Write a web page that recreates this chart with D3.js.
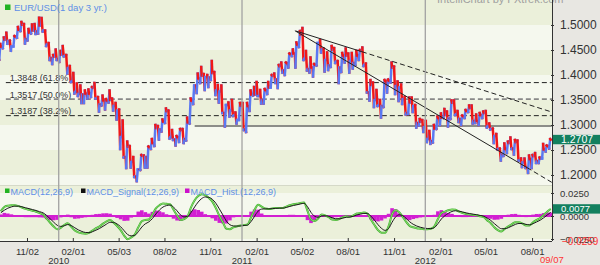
<!DOCTYPE html>
<html><head><meta charset="utf-8">
<script src="https://cdn.jsdelivr.net/npm/d3@7"></script>
<style>body{margin:0;background:#e8e7e2;} text{font-family:"Liberation Sans",Arial,sans-serif;}</style>
</head><body><svg id="c" width="600" height="265"></svg>
<script>
// ---------- data ----------
const firstOpen = 1.4330;
const weekHigh = [1.4620,1.4750,1.4845,1.4690,1.4780,1.4960,1.5060,1.5020,1.4920,1.5010,1.5020,1.5145,1.5140,1.4890,1.4640,1.4400,1.4510,
1.4480,1.4580,1.4400,1.4180,1.4040,1.3830,1.3790,1.3690,1.3710,1.3760,1.3840,1.3560,1.3590,1.3520,1.3690,1.3530,1.3440,1.3310,1.3090,1.2670,1.2580,1.2360,1.2110,1.2400,1.2390,1.2570,1.2720,1.3000,1.2980,1.3110,1.3330,1.3290,1.2900,1.2780,1.2920,1.2920,1.3150,1.3530,1.3790,1.4030,1.4160,1.4020,1.4000,1.4280,1.4060,1.3800,1.3790,1.3400,1.3450,1.3500,1.3250,1.3440,
1.3440,1.3440,1.3690,1.3760,1.3860,1.3700,1.3720,1.3860,1.4000,1.4030,1.4200,1.4250,1.4250,1.4430,1.4510,1.4650,1.4880,1.4940,1.4480,1.4350,1.4220,1.4640,1.4700,1.4530,1.4450,1.4580,1.4540,1.4280,1.4440,1.4530,1.4430,1.4440,1.4480,1.4500,1.4550,1.4230,1.3900,1.3850,1.3700,1.3500,1.3900,1.3910,1.4250,1.4170,1.3870,1.3810,1.3560,1.3550,1.3550,1.3400,1.3120,1.3100,
1.3080,1.2880,1.3000,1.3170,1.3230,1.3320,1.3270,1.3490,1.3490,1.3280,1.3190,1.3300,1.3390,1.3390,1.3210,1.3240,1.3270,1.3280,1.3030,1.2930,1.2820,1.2530,1.2630,1.2670,1.2750,1.2700,1.2690,1.2330,1.2330,1.2390,1.2400,1.2440,1.2350,1.2620,1.2590,1.2720];
const weekLow = [1.4305,1.4535,1.4625,1.4485,1.4570,1.4745,1.4880,1.4630,1.4690,1.4830,1.4820,1.4830,1.4870,1.4580,1.4300,1.4220,1.4300,
1.4260,1.4370,1.4030,1.3860,1.3630,1.3580,1.3440,1.3440,1.3530,1.3560,1.3530,1.3270,1.3390,1.3310,1.3450,1.3290,1.3110,1.2520,1.2350,1.2140,1.2150,1.1960,1.1876,1.2100,1.2150,1.2150,1.2520,1.2580,1.2710,1.2870,1.3040,1.2730,1.2700,1.2590,1.2660,1.2640,1.2690,1.3030,1.3420,1.3640,1.3840,1.3700,1.3760,1.3900,1.3600,1.3450,1.3240,1.2970,1.3170,1.3180,1.3030,1.3100,
1.2900,1.2860,1.3280,1.3590,1.3580,1.3430,1.3430,1.3620,1.3750,1.3840,1.3740,1.4050,1.4000,1.4150,1.4380,1.4150,1.4560,1.4300,1.4090,1.4050,1.3970,1.4190,1.4450,1.4070,1.4100,1.4160,1.4240,1.3840,1.4060,1.4250,1.4050,1.4130,1.4200,1.4300,1.4180,1.3650,1.3490,1.3360,1.3380,1.3150,1.3360,1.3650,1.3850,1.3620,1.3480,1.3420,1.3210,1.3220,1.3260,1.2950,1.2990,1.2860,
1.2660,1.2624,1.2650,1.2920,1.3000,1.3140,1.2970,1.3120,1.3200,1.3060,1.3000,1.3140,1.3260,1.3030,1.3040,1.3000,1.3140,1.2950,1.2910,1.2640,1.2510,1.2290,1.2380,1.2440,1.2520,1.2410,1.2290,1.2160,1.2140,1.2042,1.2140,1.2240,1.2240,1.2330,1.2470,1.2530];
const weekClose = [1.4570,1.4710,1.4680,1.4570,1.4770,1.4905,1.5010,1.4720,1.4850,1.4890,1.4870,1.4990,1.4890,1.4610,1.4340,1.4370,1.4320,
1.4410,1.4380,1.4140,1.3870,1.3660,1.3620,1.3610,1.3630,1.3630,1.3750,1.3530,1.3410,1.3490,1.3490,1.3500,1.3380,1.3290,1.2760,1.2360,1.2570,1.2260,1.1970,1.2110,1.2390,1.2360,1.2560,1.2640,1.2940,1.2910,1.3070,1.3280,1.2750,1.2710,1.2760,1.2900,1.2720,1.3050,1.3490,1.3790,1.3930,1.3990,1.3960,1.3950,1.4040,1.3690,1.3670,1.3240,1.3400,1.3290,1.3190,1.3100,1.3390,
1.2910,1.3380,1.3610,1.3610,1.3580,1.3500,1.3700,1.3750,1.3990,1.3910,1.4180,1.4090,1.4240,1.4420,1.4430,1.4610,1.4810,1.4320,1.4120,1.4150,1.4210,1.4640,1.4510,1.4300,1.4190,1.4510,1.4270,1.4150,1.4390,1.4390,1.4280,1.4240,1.4390,1.4490,1.4200,1.3650,1.3800,1.3500,1.3390,1.3380,1.3880,1.3890,1.4150,1.3780,1.3750,1.3520,1.3240,1.3450,1.3380,1.3040,1.3070,1.2960,
1.2720,1.2680,1.2930,1.3140,1.3150,1.3200,1.3130,1.3450,1.3210,1.3120,1.3180,1.3280,1.3340,1.3080,1.3080,1.3200,1.3240,1.2970,1.2920,1.2780,1.2520,1.2410,1.2520,1.2640,1.2530,1.2660,1.2290,1.2250,1.2150,1.2320,1.2380,1.2280,1.2330,1.2510,1.2580,1.2707];
const macdValues = [0.0052,0.0097,0.0112,0.0117,0.0117,0.0107,0.0092,0.0077,0.0067,0.0057,0.0047,0.0032,0.0017,-0.0028,-0.0073,-0.0113,-0.0143,
-0.0128,-0.0098,-0.0078,-0.0118,-0.0158,-0.0178,-0.0188,-0.0193,-0.0183,-0.0158,-0.0133,-0.0113,-0.0083,-0.0058,-0.0043,-0.0073,-0.0108,-0.0153,-0.0213,-0.0253,-0.0233,-0.0203,-0.0123,-0.0058,-0.0043,-0.0038,0.0017,0.0082,0.0117,0.0137,0.0132,0.0127,0.0067,0.0007,-0.0043,-0.0033,-0.0003,0.0097,0.0172,0.0217,0.0237,0.0227,0.0197,0.0157,0.0087,0.0002,-0.0068,-0.0138,-0.0143,-0.0123,-0.0113,-0.0103,
-0.0098,-0.0093,-0.0013,0.0067,0.0122,0.0102,0.0082,0.0077,0.0082,0.0087,0.0087,0.0087,0.0102,0.0117,0.0127,0.0132,0.0142,0.0147,0.0057,-0.0038,-0.0053,-0.0028,0.0017,0.0007,-0.0013,-0.0038,-0.0043,-0.0033,-0.0013,-0.0003,-0.0008,0.0007,0.0027,0.0032,0.0037,0.0027,-0.0038,-0.0098,-0.0153,-0.0183,-0.0183,-0.0113,0.0017,0.0062,0.0042,-0.0008,-0.0063,-0.0108,-0.0123,-0.0133,-0.0138,-0.0143,
-0.0143,-0.0138,-0.0113,-0.0033,0.0032,0.0047,0.0062,0.0072,0.0067,0.0047,0.0032,0.0022,0.0017,0.0012,0.0007,-0.0003,-0.0013,-0.0048,-0.0078,-0.0123,-0.0153,-0.0168,-0.0138,-0.0113,-0.0088,-0.0068,-0.0068,-0.0083,-0.0103,-0.0103,-0.0068,-0.0043,-0.0023,0.0012,0.0047,0.0077];
const signalValues = [0.0035,0.0063,0.0085,0.0099,0.0107,0.0107,0.0100,0.0090,0.0080,0.0070,0.0060,0.0047,0.0034,0.0006,-0.0030,-0.0067,-0.0101,
-0.0113,-0.0106,-0.0093,-0.0104,-0.0128,-0.0151,-0.0168,-0.0179,-0.0181,-0.0171,-0.0154,-0.0136,-0.0112,-0.0088,-0.0068,-0.0070,-0.0087,-0.0117,-0.0160,-0.0202,-0.0216,-0.0210,-0.0171,-0.0120,-0.0085,-0.0064,-0.0028,0.0022,0.0065,0.0097,0.0113,0.0119,0.0096,0.0056,0.0011,-0.0009,-0.0006,0.0040,0.0099,0.0152,0.0190,0.0207,0.0203,0.0182,0.0139,0.0077,0.0012,-0.0056,-0.0095,-0.0108,-0.0110,-0.0107,
-0.0103,-0.0099,-0.0060,-0.0003,0.0053,0.0075,0.0078,0.0078,0.0080,0.0083,0.0085,0.0086,0.0093,0.0104,0.0114,0.0122,0.0131,0.0138,0.0102,0.0039,-0.0002,-0.0014,0.0000,0.0003,-0.0004,-0.0019,-0.0030,-0.0031,-0.0023,-0.0014,-0.0011,-0.0003,0.0011,0.0020,0.0028,0.0028,-0.0002,-0.0045,-0.0094,-0.0134,-0.0156,-0.0137,-0.0068,-0.0010,0.0013,0.0004,-0.0026,-0.0063,-0.0090,-0.0109,-0.0122,-0.0131,
-0.0136,-0.0137,-0.0126,-0.0084,-0.0032,0.0004,0.0030,0.0049,0.0057,0.0053,0.0044,0.0034,0.0026,0.0020,0.0014,0.0006,-0.0003,-0.0023,-0.0048,-0.0082,-0.0114,-0.0138,-0.0138,-0.0127,-0.0109,-0.0091,-0.0081,-0.0082,-0.0091,-0.0096,-0.0083,-0.0065,-0.0046,-0.0020,0.0010,0.0040];
const priceTicks = [1.5, 1.45, 1.4, 1.35, 1.3, 1.25, 1.2];
const macdTicks = [0.025, 0, -0.025];
const fibLevels = [1.3848, 1.3517, 1.3187];
const fibLabels = ["1.3848 (61.8%)", "1.3517 (50.0%)", "1.3187 (38.2%)"];
const dateTicks = ["2009-11-02","2010-02-01","2010-05-03","2010-08-02","2010-11-01","2011-02-01","2011-05-02","2011-08-01","2011-11-01","2012-02-01","2012-05-01","2012-08-01"];
const dateTickLabels = ["11/02","02/01","05/03","08/02","11/01","02/01","05/02","08/01","11/01","02/01","05/01","08/01"];
const yearStarts = ["2010-01-04","2011-01-03","2012-01-02"];
const yearLabels = ["2010","2011","2012"];
const lastPrice = 1.2707, lastMacd = 0.0077, minMacd = -0.0259, lastDate = "09/07";
const upperTrend = [["2011-04-20",1.4880],["2011-08-29",1.4466],["2012-09-09",1.3260]];
const lowerTrend = [["2011-04-18",1.4886],["2012-07-22",1.2148],["2012-09-09",1.1854]];
const supportLine = [["2010-10-01",1.2980],["2012-09-09",1.2980]];
const fibStart = "2009-09-21";

// ---------- layout ----------
const svg = d3.select('#c');
const PR = 552, MAIN_B = 185, MACD_B = 241;
const pd = d3.timeParse('%Y-%m-%d');
const x = d3.scaleTime().domain([new Date(2010,0,1), new Date(2012,0,1)]).range([57.2, 424.8]);
const y = d3.scaleLinear().domain([1.2, 1.5]).range([175, 25]);
const ym = d3.scaleLinear().domain([-0.025, 0.025]).range([239, 193]);
const weeks = d3.timeMonday.range(new Date(2009,8,7), new Date(2012,8,8));

svg.append('rect').attr('width',600).attr('height',265).attr('fill','#e8e7e2');
const defs = svg.append('defs');
defs.append('clipPath').attr('id','cm').append('rect').attr('x',0).attr('y',0).attr('width',PR).attr('height',MAIN_B);
defs.append('clipPath').attr('id','cd').append('rect').attr('x',0).attr('y',MAIN_B).attr('width',PR).attr('height',MACD_B-MAIN_B);

const GREEN='#ebf0da', LIGHT='#f5f8ee';
const gm = svg.append('g').attr('clip-path','url(#cm)');
const bandEdges = [1.6,1.5,1.45,1.4,1.35,1.3,1.25,1.2,1.1];
for(let i=0;i<bandEdges.length-1;i++){
  gm.append('rect').attr('x',0).attr('width',PR).attr('y',y(bandEdges[i])).attr('height',y(bandEdges[i+1])-y(bandEdges[i]))
    .attr('fill', i%2===0?GREEN:LIGHT);
}
const gd = svg.append('g').attr('clip-path','url(#cd)');
const mEdges = [0.06,0.025,0,-0.025,-0.06];
const mCols = [GREEN, LIGHT, GREEN, LIGHT];
for(let i=0;i<mEdges.length-1;i++){
  gd.append('rect').attr('x',0).attr('width',PR).attr('y',ym(mEdges[i])).attr('height',ym(mEdges[i+1])-ym(mEdges[i])).attr('fill',mCols[i]);
}
svg.append('line').attr('x1',0).attr('x2',PR).attr('y1',MAIN_B+0.5).attr('y2',MAIN_B+0.5).attr('stroke','#d5d9c8');

svg.append('text').attr('x',437).attr('y',2.5).attr('font-size',11).attr('fill','#a0a0a0').text('IntelliChart   by FXtrek.com');

yearStarts.forEach(d=>{
  svg.append('line').attr('x1',x(pd(d))).attr('x2',x(pd(d))).attr('y1',0).attr('y2',MACD_B)
    .attr('stroke','#a2a2a2').attr('stroke-width',1.3);
});

fibLevels.forEach((v,i)=>{
  gm.append('line').attr('x1',x(pd(fibStart))).attr('x2',PR).attr('y1',y(v)).attr('y2',y(v))
    .attr('stroke', i===1?'#888':'#222').attr('stroke-width', i===1?1.6:1).attr('stroke-dasharray','5,3');
  gm.append('text').attr('x',x(pd(fibStart))+4).attr('y',y(v)-1.5).attr('font-size',9).attr('fill','#333').text(fibLabels[i]);
});
gm.append('line').attr('x1',x(pd(supportLine[0][0]))).attr('x2',x(pd(supportLine[1][0])))
  .attr('y1',y(supportLine[0][1])).attr('y2',y(supportLine[1][1])).attr('stroke','#222').attr('stroke-width',1);

// price: each week drawn as an OHLC zig-zag (open -> first extreme -> second extreme -> close)
const opens = weekClose.map((c,i)=> i===0?firstOpen:weekClose[i-1]);
const segs = [];
weeks.forEach((d,i)=>{
  const bull = weekClose[i] >= opens[i];
  const pts = [[0,opens[i]],[1,bull?weekLow[i]:weekHigh[i]],[3,bull?weekHigh[i]:weekLow[i]],[4,weekClose[i]]];
  for(let k=0;k<3;k++) segs.push({d, a:pts[k], b:pts[k+1]});
});
gm.selectAll('line.px').data(segs).enter().append('line').attr('class','px')
  .attr('x1',s=>x(d3.timeDay.offset(s.d,s.a[0]))).attr('x2',s=>x(d3.timeDay.offset(s.d,s.b[0])))
  .attr('y1',s=>y(s.a[1])).attr('y2',s=>y(s.b[1]))
  .attr('stroke',s=> s.b[1]>=s.a[1] ? '#5a78f2' : '#f01818').attr('stroke-width',2.5).attr('stroke-linecap','square');

function seg(g, a, b, dash){
  g.append('line').attr('x1',x(pd(a[0]))).attr('y1',y(a[1])).attr('x2',x(pd(b[0]))).attr('y2',y(b[1]))
   .attr('stroke','#222').attr('stroke-width',1).attr('stroke-dasharray',dash||null);
}
seg(gm, upperTrend[0], upperTrend[1]); seg(gm, upperTrend[1], upperTrend[2], '5,3');
seg(gm, lowerTrend[0], lowerTrend[1]); seg(gm, lowerTrend[1], lowerTrend[2], '5,3');

// MACD
gd.append('line').attr('x1',0).attr('x2',PR).attr('y1',ym(0)).attr('y2',ym(0)).attr('stroke','#d21fd2').attr('stroke-width',2);
gd.selectAll('rect.h').data(weeks).enter().append('rect').attr('class','h')
  .attr('x',d=>x(d3.timeDay.offset(d,4))-1.8).attr('width',3.6)
  .attr('y',(d,i)=> Math.min(ym(0), ym(macdValues[i]-signalValues[i])))
  .attr('height',(d,i)=> Math.abs(ym(macdValues[i]-signalValues[i])-ym(0)))
  .attr('fill','#d21fd2');
const lm = d3.line().x(d=>x(d3.timeDay.offset(d,4))).curve(d3.curveMonotoneX);
gd.append('path').datum(weeks).attr('fill','none').attr('stroke','#3cae2c').attr('stroke-width',2)
  .attr('d', lm.y((d,i)=>ym(macdValues[i])));
gd.append('path').datum(weeks).attr('fill','none').attr('stroke','#9be67c').attr('stroke-width',0.8)
  .attr('d', lm.y((d,i)=>ym(macdValues[i])));
gd.append('path').datum(weeks).attr('fill','none').attr('stroke','#1a1a1a').attr('stroke-width',1)
  .attr('d', lm.y((d,i)=>ym(signalValues[i])));

const LEG='#5e8fe6';
svg.append('rect').attr('x',5).attr('y',4.5).attr('width',5.5).attr('height',5.5).attr('fill','#22b322');
svg.append('text').attr('x',14).attr('y',11).attr('font-size',9.5).attr('fill',LEG).text('EUR/USD(1 day  3 yr.)');
const macdLeg = [['#22b322','MACD(12,26,9)',5],['#111','MACD_Signal(12,26,9)',81],['#cc11cc','MACD_Hist.(12,26,9)',185]];
macdLeg.forEach(l=>{
  svg.append('rect').attr('x',l[2]).attr('y',188.5).attr('width',4.5).attr('height',4.5).attr('fill',l[0]);
  svg.append('text').attr('x',l[2]+5.5).attr('y',194.5).attr('font-size',9).attr('fill',LEG).text(l[1]);
});

svg.append('line').attr('x1',PR+0.5).attr('x2',PR+0.5).attr('y1',0).attr('y2',MACD_B).attr('stroke','#333');
svg.append('line').attr('x1',0).attr('x2',PR).attr('y1',MACD_B+0.5).attr('y2',MACD_B+0.5).attr('stroke','#333');
const ay = d3.axisRight(y).tickValues(priceTicks).tickFormat(d3.format('.4f')).tickSize(3).tickPadding(6);
const gy = svg.append('g').attr('transform',`translate(${PR-1},0)`).call(ay);
gy.select('.domain').remove();
gy.selectAll('text').attr('font-size',12).attr('fill','#333').attr('font-family','"Liberation Sans",Arial,sans-serif');
gy.selectAll('line').attr('stroke','#333');
const ayd = d3.axisRight(ym).tickValues(macdTicks).tickFormat(d3.format('.4f')).tickSize(3).tickPadding(6);
const gyd = svg.append('g').attr('transform',`translate(${PR-1},0)`).call(ayd);
gyd.select('.domain').remove();
gyd.selectAll('text').attr('font-size',9.5).attr('fill','#333').attr('font-family','"Liberation Sans",Arial,sans-serif');
gyd.selectAll('line').attr('stroke','#333');

const ax = d3.axisBottom(x).tickValues(dateTicks.map(pd)).tickFormat((d,i)=>dateTickLabels[i]).tickSize(3).tickPadding(5);
const gx = svg.append('g').attr('transform',`translate(0,${MACD_B})`).call(ax);
gx.select('.domain').remove();
gx.selectAll('line').attr('stroke','#333').attr('y1',-3).attr('y2',0);
gx.selectAll('text').attr('font-size',9.5).attr('fill','#333').attr('font-family','"Liberation Sans",Arial,sans-serif').attr('y',7);
yearStarts.forEach((d,i)=>{
  svg.append('text').attr('x',x(pd(d))).attr('y',264).attr('text-anchor','middle').attr('font-size',9.5).attr('fill','#333').text(yearLabels[i]);
});

const BOX='#13805f';
svg.append('rect').attr('x',PR+1).attr('y',y(lastPrice)-4.8).attr('width',48).attr('height',9.4).attr('fill',BOX);
svg.append('text').attr('x',561).attr('y',y(lastPrice)+3.6).attr('font-size',10.5).attr('fill','#fff').text(d3.format('.4f')(lastPrice));
svg.append('rect').attr('x',PR+1).attr('y',ym(lastMacd)-4.7).attr('width',48).attr('height',9.4).attr('fill',BOX);
svg.append('text').attr('x',561).attr('y',ym(lastMacd)+3.5).attr('font-size',9.5).attr('fill','#fff').text(d3.format('.4f')(lastMacd));
svg.append('text').attr('x',562).attr('y',ym(minMacd)+5).attr('font-size',10).attr('fill','#f33').text(d3.format('.4f')(minMacd));
svg.append('text').attr('x',540).attr('y',263).attr('font-size',9.5).attr('fill','#f33').text(lastDate);
</script></body></html>
